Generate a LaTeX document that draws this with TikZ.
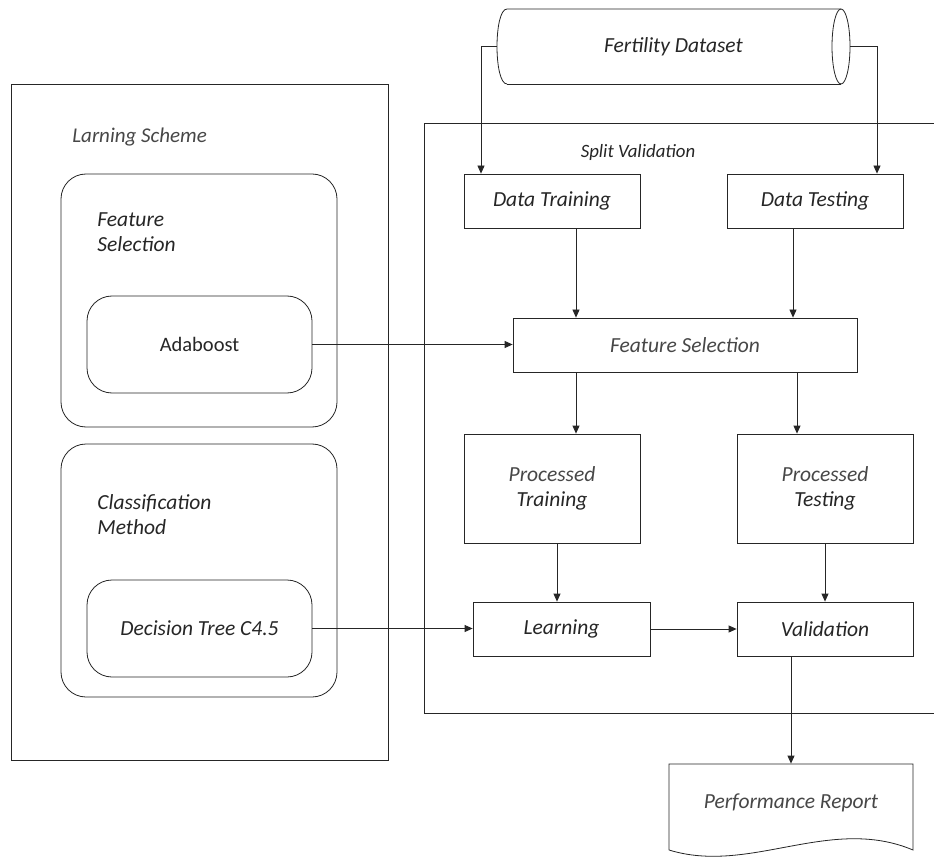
\documentclass[tikz,border=0pt]{standalone}
\usepackage{fontspec}
\setmainfont{Carlito}
\usetikzlibrary{arrows.meta,calc}
\newcommand\myfnt{\fontsize{21.5}{25}\selectfont}
\newcommand\myupfnt{\fontsize{20.5}{25}\selectfont}
\begin{document}
\begin{tikzpicture}[x=1pt,y=-1pt,line width=0.8pt,color=black!85,
  arr/.style={-{Triangle[length=8pt,width=7pt]}},
  sq/.style={draw,rectangle,inner sep=0pt,align=center,font=\myfnt\itshape},
  rnd/.style={draw,rectangle,rounded corners=25pt,inner sep=0pt},
  lbl/.style={inner sep=0pt,align=left,font=\myfnt\itshape},
  light/.style={text=black!72}]
\clip (0,0) rectangle (934,858);
\fill[white] (0,0) rectangle (934,858);

% ---------- left: learning scheme ----------
\node[draw,rectangle,inner sep=0pt,minimum width=377pt,minimum height=676pt] (ls) at (199.5,422) {};
\node[lbl,light,anchor=west,font=\fontsize{21}{24}\selectfont\itshape] (lst) at (72,137) {Larning Scheme};
\node[rnd,minimum width=276pt,minimum height=253pt] (fsg) at (199,300.5) {};
\node[lbl,anchor=west] (fsgt) at (97,232) {Feature\\Selection};
\node[rnd,minimum width=225pt,minimum height=97pt,font=\myupfnt] (ada) at (199.5,344.5) {Adaboost};
\node[rnd,minimum width=276pt,minimum height=253pt] (cmg) at (199,570.5) {};
\node[lbl,anchor=west] (cmgt) at (97,514.5) {Classification\\Method};
\node[rnd,minimum width=225pt,minimum height=97pt,font=\myfnt\itshape] (dt) at (199.5,628.5) {Decision Tree C4.5};

% ---------- split validation frame ----------
\draw (950,123) -- (424,123) -- (424,713) -- (950,713);
\node[font=\fontsize{18.8}{22}\selectfont\itshape] (svt) at (638,152) {Split Validation};

% ---------- dataset cylinder ----------
\node[inner sep=0pt,minimum width=353pt,minimum height=75pt,font=\myfnt\itshape] (ds) at (673.5,46.5) {Fertility Dataset};
\draw (507,84) .. controls (493.67,84) and (493.67,9) .. (507,9) -- (841,9);
\draw (507,84) -- (841,84);
\draw (841,46.5) ellipse [x radius=9pt, y radius=37.5pt];

% ---------- right boxes ----------
\node[sq,minimum width=176pt,minimum height=54pt] (dtrain) at (552,201) {Data Training};
\node[sq,minimum width=176pt,minimum height=54pt] (dtest) at (815,201) {Data Testing};
\node[sq,light,minimum width=344pt,minimum height=54pt] (fs) at (685,345) {Feature Selection};
\node[sq,minimum width=176pt,minimum height=109pt] (ptrain) at (552,488.5) {{\color{black!72}Processed}\\Training};
\node[sq,minimum width=176pt,minimum height=109pt] (ptest) at (825,488.5) {{\color{black!72}Processed}\\Testing};
\node[sq,minimum width=177pt,minimum height=54pt] (learn) at (561.5,629) {Learning};
\node[sq,minimum width=176pt,minimum height=54pt] (valid) at (825,629) {Validation};

% ---------- performance report (document shape) ----------
\node[inner sep=0pt,minimum width=244pt,minimum height=78pt,font=\myfnt\itshape,light] (rep) at (791,803) {Performance Report};
\draw (669,850) -- (669,764) -- (913,764) -- (913,850)
      .. controls (830,815) and (750,875) .. (669,850);

% ---------- connectors ----------
\draw[arr] (ds.west) -| ([xshift=-71pt]dtrain.north);
\draw[arr] (ds.east) -| ([xshift=62pt]dtest.north);
\draw[arr] ([xshift=24pt]dtrain.south) -- ([xshift=24pt]dtrain.south |- fs.north);
\draw[arr] ([xshift=-22pt]dtest.south) -- ([xshift=-22pt]dtest.south |- fs.north);
\draw[arr] (ada.east) -- (ada.east -| fs.west);
\draw[arr] ([xshift=24pt]ptrain.north |- fs.south) -- ([xshift=24pt]ptrain.north);
\draw[arr] ([xshift=-28pt]ptest.north |- fs.south) -- ([xshift=-28pt]ptest.north);
\draw[arr] ([xshift=5pt]ptrain.south) -- ([xshift=5pt]ptrain.south |- learn.north);
\draw[arr] (ptest.south) -- (valid.north);
\draw[arr] (dt.east) -- (dt.east -| learn.west);
\draw[arr] (learn.east) -- (learn.east -| valid.west);
\draw[arr] ([xshift=-34pt]valid.south) -- ([xshift=-34pt]valid.south |- rep.north);
\end{tikzpicture}
\end{document}
